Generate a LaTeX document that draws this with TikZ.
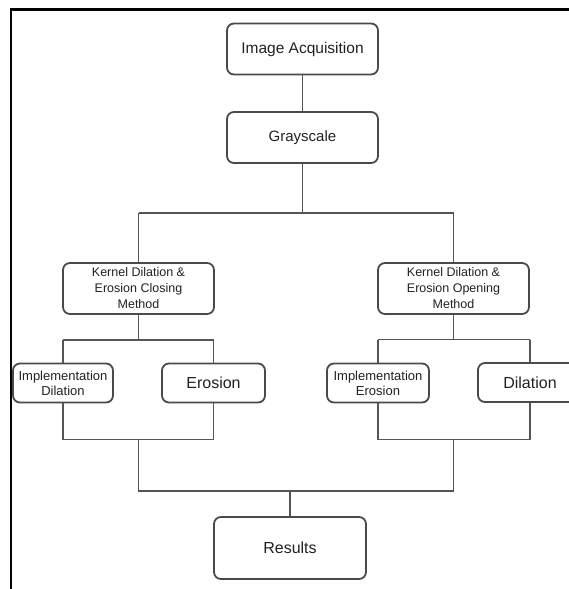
\documentclass[tikz,border=0pt]{standalone}
\usepackage{fontspec}
\setmainfont{Liberation Sans}
\definecolor{boxline}{HTML}{4A4A4A}
\definecolor{conn}{HTML}{555555}
\definecolor{txt}{HTML}{222222}
\begin{document}
\begin{tikzpicture}[x=1pt,y=-1pt,
  box/.style={draw=boxline, line width=1.8pt, rounded corners=7pt, fill=white,
    text=txt, align=center, inner sep=0pt},
  bigbox/.style={box, minimum width=151pt, minimum height=51pt},
  kbox/.style={box, minimum width=151pt, minimum height=51pt,
    font=\fontsize{12.5}{16}\selectfont},
  smallbox/.style={box, minimum height=39pt, font=\fontsize{13}{15}\selectfont},
  wordbox/.style={box, minimum height=39pt, font=\fontsize{16}{18}\selectfont},
  conn/.style={draw=conn, line width=1.5pt},
  frame/.style={draw=black, line width=2.5pt}]
\useasboundingbox (0,0) rectangle (569,589);
\clip (0,0) rectangle (569,589);
% frame
\draw[frame] (575,9.5) -- (11,9.5) -- (11,595);
% nodes
\node[bigbox, font=\fontsize{15.5}{18}\selectfont] (ia) at (302.5,49) {Image Acquisition};
\node[bigbox, font=\fontsize{15}{18}\selectfont] (gs) at (302.5,137.5) {Grayscale};
\node[kbox] (kc) at (138.5,288.5) {Kernel Dilation \&\\Erosion Closing\\Method};
\node[kbox] (ko) at (453.5,288.5) {Kernel Dilation \&\\Erosion Opening\\Method};
\node[smallbox, minimum width=100pt] (id) at (63,383) {Implementation\\Dilation};
\node[wordbox, minimum width=103pt] (er) at (213.5,383) {Erosion};
\node[smallbox, minimum width=102pt] (ie) at (378,383) {Implementation\\Erosion};
\node[wordbox, minimum width=104pt] (di) at (530,382.5) {Dilation};
\node[box, minimum width=152pt, minimum height=62pt, font=\fontsize{16}{18}\selectfont] (rs) at (290,548) {Results};
% coordinates
\coordinate (t0) at (302.5,213);
\coordinate (tL) at (138.5,213);
\coordinate (tR) at (453.5,213);
\coordinate (lm) at (138.5,340);
\coordinate (lL) at (63,340);
\coordinate (lR) at (213.5,340);
\coordinate (rm) at (453.5,339.5);
\coordinate (rL) at (378,339.5);
\coordinate (rR) at (530,339.5);
\coordinate (lbL) at (63,439.5);
\coordinate (lbR) at (213.5,439.5);
\coordinate (lbm) at (138.5,439.5);
\coordinate (rbL) at (378,439.5);
\coordinate (rbR) at (530,439.5);
\coordinate (rbm) at (453.5,439.5);
\coordinate (bL) at (138.5,491);
\coordinate (bR) at (453.5,491);
\coordinate (bm) at (290,491);
% connectors
\draw[conn] (ia.south) -- (gs.north);
\draw[conn] (gs.south) -- (t0);
\draw[conn] (tL) -- (tR);
\draw[conn] (tL) -- (kc.north);
\draw[conn] (tR) -- (ko.north);
\draw[conn] (kc.south) -- (lm);
\draw[conn] (ko.south) -- (rm);
\draw[conn] (lL) -- (lR);
\draw[conn] (rL) -- (rR);
\draw[conn] (lL) -- (id.north);
\draw[conn] (lR) -- (er.north);
\draw[conn] (rL) -- (ie.north);
\draw[conn] (rR) -- (di.north);
\draw[conn] (id.south) -- (lbL) -- (lbR) -- (er.south);
\draw[conn] (ie.south) -- (rbL) -- (rbR) -- (di.south);
\draw[conn] (lbm) -- (bL) -- (bR) -- (rbm);
\draw[conn] (bm) -- (rs.north);
\end{tikzpicture}
\end{document}
